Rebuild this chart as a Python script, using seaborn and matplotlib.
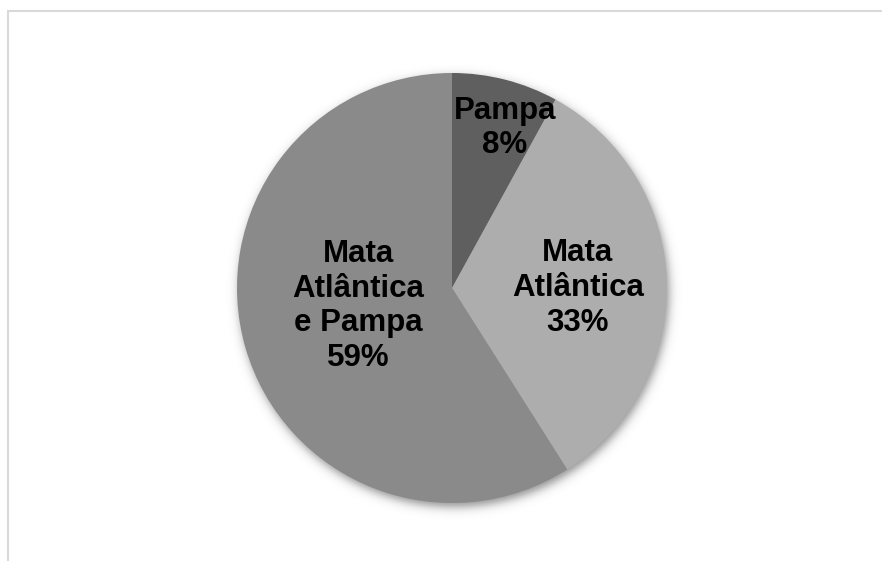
import numpy as np
import matplotlib
matplotlib.use("Agg")
import matplotlib.pyplot as plt
from matplotlib.patches import Rectangle
import seaborn as sns

# Share of records by biome
categories = ["Pampa", "Mata\nAtlântica", "Mata\nAtlântica\ne Pampa"]
shares = [8, 33, 59]
slice_colors = ["#5f5f5f", "#adadad", "#8a8a8a"]

sns.set_theme(style="white")
plt.rcParams["font.family"] = ["Liberation Sans", "DejaVu Sans"]

W, H, DPI = 882, 561, 100
fig = plt.figure(figsize=(W / DPI, H / DPI), dpi=DPI)
fig.patch.set_facecolor("white")

# light chart-area frame (runs off the right and bottom edges)
fig.patches.append(Rectangle((8 / W, -0.05), 1.0, (H - 11) / H + 0.05,
                             transform=fig.transFigure, fill=False,
                             edgecolor="#d9d9d9", linewidth=1.5))

cx, cy, R = 452, 288, 215
box = [(cx - R) / W, (H - cy - R) / H, 2 * R / W, 2 * R / H]

# soft drop shadow behind the pie
sh = fig.add_axes(box, zorder=0)
sh.axis("off")
g = np.linspace(-1.1, 1.1, 600)
X, Y = np.meshgrid(g, g)
d = np.hypot(X - 0.012, Y + 0.016)
alpha = 0.45 * 0.5 * (1 - np.tanh((d - 1.0) / 0.028))
rgba = np.zeros(X.shape + (4,))
rgba[..., 3] = alpha
sh.imshow(rgba, extent=(-1.1, 1.1, -1.1, 1.1), origin="lower",
          interpolation="bilinear")
sh.set_xlim(-1.1, 1.1); sh.set_ylim(-1.1, 1.1)
sh.set_position([(cx - 1.1 * R) / W, (H - cy - 1.1 * R) / H,
                 2.2 * R / W, 2.2 * R / H])

ax = fig.add_axes(box, zorder=1)
ax.patch.set_alpha(0)
wedges, _ = ax.pie(shares, colors=slice_colors, startangle=90,
                   counterclock=False, radius=1.0,
                   wedgeprops=dict(linewidth=0))
ax.set_xlim(-1, 1); ax.set_ylim(-1, 1)
ax.set_aspect("equal")

# label anchors (fraction of radius) for each slice
label_xy = [(0.247, 0.744), (0.586, 0.0), (-0.437, -0.084)]
for name, v, (lx, ly) in zip(categories, shares, label_xy):
    ax.text(lx, ly, f"{name}\n{v}%", ha="center", va="center",
            fontsize=22.5, fontweight="bold", color="black",
            linespacing=1.2)

fig.savefig("out.png", dpi=DPI, facecolor="white")
